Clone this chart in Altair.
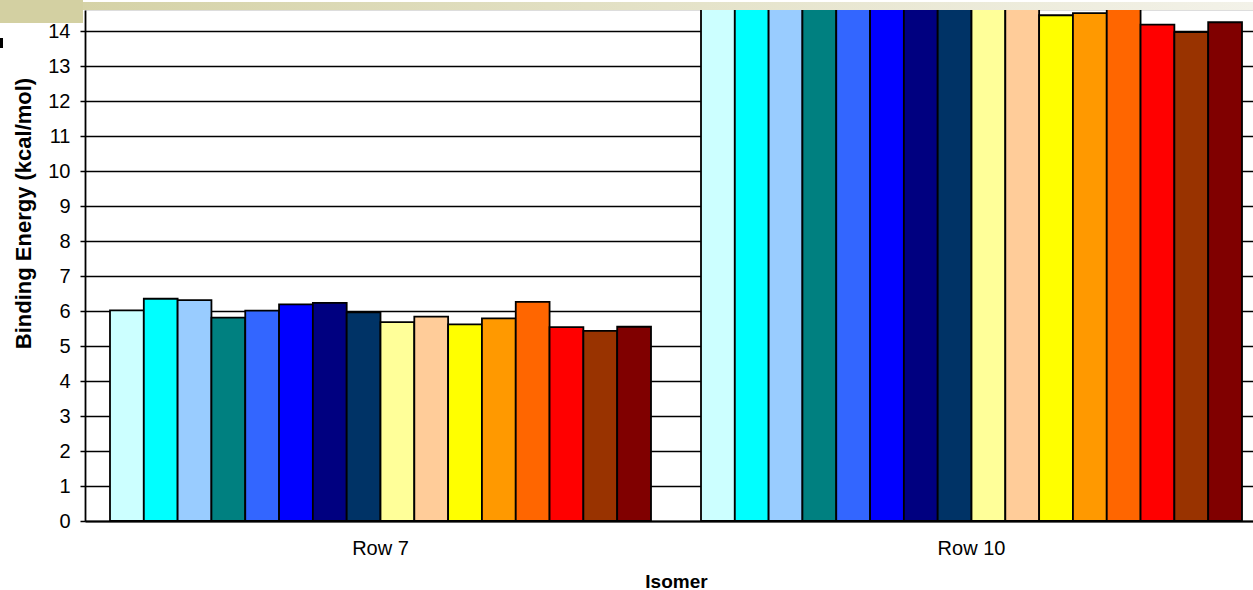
import altair as alt
import pandas as pd

# Categories, series and values
rows = ["Row 7", "Row 10"]
isomers = [f"Isomer {i}" for i in range(1, 17)]
colors = [
    "#CCFFFF", "#00FFFF", "#99CCFF", "#008080",
    "#3366FF", "#0000FF", "#000080", "#003366",
    "#FFFF99", "#FFCC99", "#FFFF00", "#FF9900",
    "#FF6600", "#FF0000", "#993300", "#800000",
]
row7 = [6.02, 6.35, 6.31, 5.81, 6.01, 6.19, 6.23, 5.96,
        5.68, 5.84, 5.62, 5.79, 6.26, 5.54, 5.43, 5.55]
row10 = [15.4, 15.9, 15.7, 15.3, 15.6, 15.8, 16.0, 15.5,
         15.1, 15.2, 14.45, 14.51, 14.9, 14.18, 13.97, 14.25]
y_ticks = list(range(0, 15))

records = []
for name, v7, v10 in zip(isomers, row7, row10):
    records.append({"row": "Row 7", "isomer": name, "energy": v7})
    records.append({"row": "Row 10", "isomer": name, "energy": v10})
df = pd.DataFrame(records)

FONT = "Liberation Sans"
W, H = 1168, 511

bars = alt.Chart(df).mark_bar(stroke="black", strokeWidth=1.8, clip=True).encode(
    x=alt.X(
        "row:N",
        sort=rows,
        scale=alt.Scale(range=[0, 1182], paddingInner=0.0846, paddingOuter=0.0423),
        axis=alt.Axis(
            title="Isomer",
            labelAngle=0,
            ticks=False,
            tickSize=0,
            grid=False,
            domainColor="black",
            domainWidth=2,
            labelPadding=17,
            labelFontSize=20,
            labelColor="black",
            labelFont=FONT,
            titleFont=FONT,
            titleFontSize=19,
            titleFontWeight="bold",
            titleColor="black",
            titleBaseline="middle",
            titleY=60,
        ),
    ),
    xOffset=alt.XOffset("isomer:N", sort=isomers,
                        scale=alt.Scale(paddingInner=0, paddingOuter=0)),
    y=alt.Y(
        "energy:Q",
        scale=alt.Scale(domain=[0, 14.6], nice=False, zero=True),
        axis=alt.Axis(
            values=y_ticks,
            title="Binding Energy (kcal/mol)",
            grid=True,
            gridColor="black",
            gridWidth=1.5,
            domainColor="black",
            domainWidth=1.8,
            tickColor="black",
            tickWidth=1.5,
            tickSize=5,
            labelPadding=10,
            labelFontSize=20,
            labelColor="black",
            labelFont=FONT,
            titleFont=FONT,
            titleFontSize=22,
            titleFontWeight="bold",
            titleColor="black",
            titleAngle=270,
            titleAlign="center",
            titleBaseline="middle",
            titleX=-62,
            titleY=203,
        ),
    ),
    color=alt.Color("isomer:N", sort=isomers,
                    scale=alt.Scale(domain=isomers, range=colors), legend=None),
)

# Page header band above the plot
one = pd.DataFrame({"k": [0]})
band_gradient = alt.LinearGradient(
    gradient="linear",
    stops=[alt.GradientStop(color="#D3D0A2", offset=0),
           alt.GradientStop(color="#F3F2E9", offset=1)],
    x1=0, x2=1, y1=0, y2=0,
)
header = alt.Chart(one).mark_rect(color=band_gradient).encode(
    x=alt.value(-85), x2=alt.value(W), y=alt.value(-8), y2=alt.value(0)
)
corner = alt.Chart(one).mark_rect(color="#D3D0A2").encode(
    x=alt.value(-85), x2=alt.value(-2), y=alt.value(-10), y2=alt.value(13)
)
glyph = alt.Chart(one).mark_rect(color="black").encode(
    x=alt.value(-85), x2=alt.value(-82), y=alt.value(28), y2=alt.value(38)
)

chart = alt.layer(bars, header, corner, glyph).properties(
    width=W,
    height=H,
    autosize=alt.AutoSizeParams(type="none"),
    padding={"left": 85, "top": 10, "right": 0, "bottom": 69},
).configure_view(stroke=None).configure(background="white")

chart.save("out.html", embed_options={"renderer": "svg", "actions": False})
